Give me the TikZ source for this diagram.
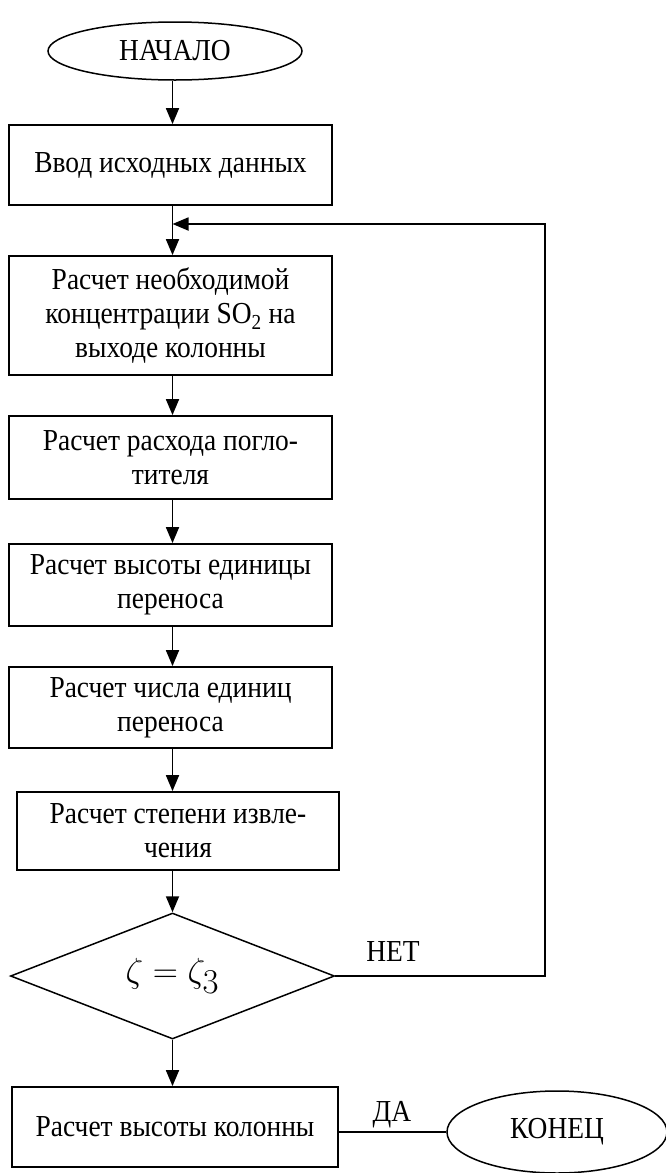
\documentclass[tikz,border=0pt]{standalone}
\usepackage{fontspec}
\setmainfont[FakeStretch=0.9]{Liberation Serif}
\usetikzlibrary{shapes.geometric,arrows.meta}
\begin{document}
\begin{tikzpicture}[x=1pt,y=1pt,
  every node/.style={font=\fontsize{30.5}{34}\selectfont},
  procbox/.style={draw, line width=1.8pt, rectangle, inner sep=0pt, align=center, minimum width=323pt},
  termin/.style={draw, line width=1.5pt, ellipse, inner sep=0pt},
  decis/.style={draw, line width=1.5pt, diamond, inner sep=0pt, minimum width=324pt, minimum height=126pt, shape aspect=2.57},
  arr/.style={line width=1.8pt, -{Triangle[length=16pt,width=13pt]}},
  conn/.style={line width=1.8pt},
  thin/.style={line width=1.2pt},
  lbl/.style={inner sep=0pt}
]
\useasboundingbox (0,0) rectangle (665,-1173);

\node[termin, minimum width=254pt, minimum height=58pt] (start) at (175,-51) {НАЧАЛО};
\node[procbox, minimum height=80pt] (b1) at (170.5,-165) {Ввод исходных данных};
\node[procbox, minimum height=119pt] (b2) at (170.5,-315.5) {Расчет необходимой\\концентрации SO\textsubscript{2} на\\выходе колонны};
\node[procbox, minimum height=83pt] (b3) at (170.5,-457.5) {Расчет расхода погло-\\тителя};
\node[procbox, minimum height=82pt] (b4) at (170.5,-585) {Расчет высоты единицы\\переноса};
\node[procbox, minimum height=81pt] (b5) at (170.5,-707.5) {Расчет числа единиц\\переноса};
\node[procbox, minimum width=322pt, minimum height=78pt] (b6) at (178,-831) {Расчет степени извле-\\чения};
\node[decis] (d) at (172.5,-976) {\fontsize{38}{42}\selectfont\scalebox{1.4}{$\zeta=\zeta_3$}};
\node[procbox, minimum width=326pt, minimum height=80pt] (b7) at (175,-1127) {Расчет высоты колонны};
\node[termin, minimum width=220pt, minimum height=82pt] (end) at (557,-1132) {КОНЕЦ};

\node[lbl] (net) at (393,-952) {НЕТ};
\node[lbl] (da) at (392,-1115) {ДА};

\coordinate (fb) at (172.5,-224);
\coordinate (corner) at (545,-224);

\draw[arr] (start.south -| fb) -- (b1.north -| fb);
\draw[conn] (b1.south -| fb) -- (fb);
\draw[arr] (fb) -- (b2.north -| fb);
\draw[arr] (b2.south -| fb) -- (b3.north -| fb);
\draw[arr] (b3.south -| fb) -- (b4.north -| fb);
\draw[arr] (b4.south -| fb) -- (b5.north -| fb);
\draw[arr] (b5.south -| fb) -- (b6.north -| fb);
\draw[arr] (b6.south -| d.north) -- (d.north);
\draw[arr] (d.south) -- (b7.north -| d.south);
\draw[arr] (d.east) -| (corner) -- (fb);
\draw[thin] (b7.east |- end.west) -- (end.west);
\end{tikzpicture}
\end{document}
